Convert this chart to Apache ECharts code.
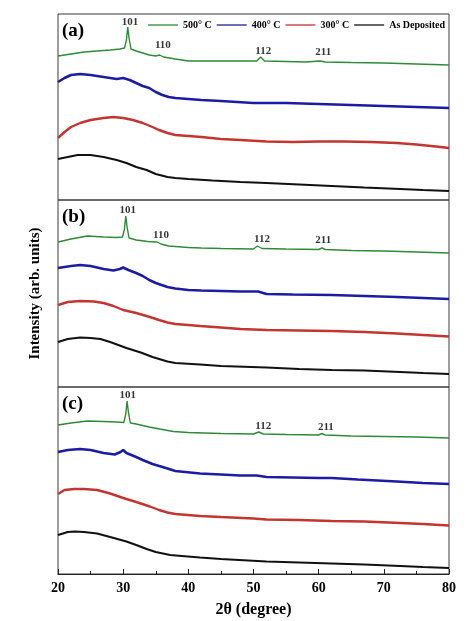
<!DOCTYPE html>
<html>
<head>
<meta charset="utf-8">
<script src="https://cdn.jsdelivr.net/npm/echarts@6/dist/echarts.min.js"></script>
<style>
  html, body { margin: 0; padding: 0; background: #fff; }
  #chart { width: 467px; height: 621px; }
</style>
</head>
<body>
<div id="chart"></div>
<script>
// series names (legend)
const seriesNames = ["500° C", "400° C", "300° C", "As Deposited"];
const seriesColors = ["#2f8a35", "#1c1ca3", "#c23530", "#111111"];

// panel (a)
const a500 = [[20,144],[22,146],[24,148],[26,149],[28,150],[29.5,151],[30.2,152],[30.5,160],[30.7,173],[30.9,162],[31.2,151],[32,149],[33,147],[34,145],[35,144],[35.6,145],[36.2,143],[38,141],[40,139],[42,139],[45,139],[48,139],[50.5,139],[51.1,143],[51.7,139],[55,138.5],[58,138],[60.2,139],[60.5,140],[61,138],[65,137.5],[70,137],[75,136],[80,135]];
const a400 = [[20,118],[21,122],[22,125],[23.4,126],[25,125],[27,123],[29,121],[30,122],[31,120],[32,117],[33,114],[34,112],[35,108],[36,105],[37,103],[38,102],[40,101],[42,100],[45,99],[50,97],[55,97],[60,96],[65,95],[70,94],[75,93],[80,92]];
const a300 = [[20,62],[21,68],[22,73],[23.4,77],[25,80],[27,82],[28.5,83],[30,82],[31.5,80],[33,77],[34.5,73],[35.5,70],[36.8,67],[38,65],[40,64],[42,63],[45,61],[48,60],[52,58.5],[56,58],[60,58.5],[64,58.5],[68,58],[72,57],[75,55.5],[78,53.5],[80,52]];
const a0 = [[20,41],[21.5,43],[23,45],[25,45],[27,43],[29,40],[30.5,37],[32,33],[33.6,30],[35,26],[36.8,23],[38,22],[40,21],[43.7,19.5],[48,18],[52,17],[57,15.5],[62,14],[67,12.5],[72.5,11],[76,10],[80,9]];

// panel (b)
const b500 = [[20,145],[22,148],[24.5,151],[27,150],[29,149.5],[29.9,150],[30.2,158],[30.4,171],[30.6,160],[30.9,149],[32,147],[33.8,145.5],[35.2,145],[35.8,143],[37,141],[40,139.5],[42,139],[45,138.5],[50,138],[50.6,141],[50.9,142],[51.3,138.5],[55,138],[60,137.5],[60.5,139],[61,137.5],[65,136.5],[70,136],[75,135],[80,134]];
const b400 = [[20,119],[22,121],[23.4,122],[25,121],[27,118],[28.5,116.5],[29.5,118],[30,119.5],[30.8,117],[32,114],[33,111],[34,107],[35,104],[36.8,100],[38,98.5],[40,97],[42,96.5],[45,96],[48,95.5],[50.7,95.5],[52,93],[56,92.5],[62,92],[67,91],[72,90],[76,89],[80,88]];
const b300 = [[20,82],[21.5,85],[23.4,86],[25.5,85.5],[27,84],[28.5,81],[30,77],[32,74],[34.1,70],[35.5,67],[36.8,64.5],[38,63],[40,62],[41.8,61],[45,59.5],[48,58],[52,57],[57,56.5],[62,56],[67,55],[72,53.5],[76,52],[80,50.5]];
const b0 = [[20,45],[21.5,48],[23.4,49.5],[25,49],[26.5,48],[28,45],[30.5,39],[32.7,34.5],[34.5,30],[36.8,25.5],[38,24],[41.8,22.5],[45,21],[52,19.5],[57,18],[62,17],[67,16.5],[72.5,15],[76,14],[80,13]];

// panel (c)
const c500 = [[20,149],[22,151],[24.5,153],[27,152.5],[29,152],[30.1,151.5],[30.4,160],[30.6,173],[30.8,162],[31.1,151],[32,150],[34,147],[35.6,145],[37.7,142.5],[40,141.5],[45,140.5],[50,140],[50.8,142],[51.1,143.5],[51.5,140],[55,139.5],[60,139],[60.5,140.5],[61,139],[65,138],[70,137.5],[75,137],[80,136]];
const c400 = [[20,122],[21.5,124],[23.4,125],[25,124],[27,121],[28.7,119.5],[29.6,122],[30,124],[30.5,121],[32,117],[33,114],[34.5,110],[36.8,105.5],[38,103],[41.8,100.5],[45,99.5],[48,98.5],[50.5,98.5],[52,97],[56,96.5],[60,96],[62,96],[66,94.5],[72,92.5],[76,91],[80,90]];
const c300 = [[20,80],[21,84],[22.5,85],[24,85],[26,84],[28,80.5],[30,76],[32,72],[34.1,67.5],[35.5,64],[36.8,61.5],[38,60],[41.8,58],[45,57],[50,55.5],[52,54.5],[57,54],[62,53],[67,52.5],[72.5,51],[76,50],[80,48.5]];
const c0 = [[20,39],[21.5,42],[22.6,42.5],[24,42],[26,40.5],[28,37],[30.5,32.5],[32,29],[33.6,25],[35,22],[37.2,19],[39,18],[41.8,16.5],[45,15],[52,12.5],[57,11.5],[62,10.5],[67,9.5],[72.5,8],[76,7],[80,6]];

// peak labels (hkl) per panel
const peaksA = [["101",31.05,178],["110",36.1,155],["112",51.5,149],["211",60.7,148]];
const peaksB = [["101",30.7,177],["110",35.8,152],["112",51.3,148],["211",60.7,147]];
const peaksC = [["101",30.7,179],["112",51.5,148],["211",61.1,147]];

const xTicks = [20, 30, 40, 50, 60, 70, 80];

const panels = [
  { top: 14, height: 186, label: "(a)", data: [a500, a400, a300, a0], peaks: peaksA },
  { top: 200, height: 187, label: "(b)", data: [b500, b400, b300, b0], peaks: peaksB },
  { top: 387, height: 187, label: "(c)", data: [c500, c400, c300, c0], peaks: peaksC }
];

const font = "Liberation Serif";
const widths = [1.4, 2.6, 2.4, 2.2];

const chart = echarts.init(document.getElementById("chart"));

const grid = [], xAxis = [], yAxis = [], series = [], graphic = [];
panels.forEach((p, i) => {
  const last = i === panels.length - 1;
  grid.push({
    left: 58, right: 18, top: p.top, height: p.height,
    show: true, borderColor: "#3a3a3a", borderWidth: 1, backgroundColor: "transparent"
  });
  xAxis.push({
    type: "value", gridIndex: i, min: xTicks[0], max: xTicks[xTicks.length - 1], interval: 10,
    show: last,
    name: last ? "2θ (degree)" : "",
    nameLocation: "middle", nameGap: 28,
    nameTextStyle: { fontFamily: font, fontWeight: "bold", fontSize: 16, color: "#000" },
    axisLine: { show: true, lineStyle: { color: "#222", width: 1 } },
    axisTick: { show: true, inside: true, length: 5, lineStyle: { color: "#222" } },
    minorTick: { show: true, splitNumber: 2, length: 3, lineStyle: { color: "#222" } },
    axisLabel: { fontFamily: font, fontWeight: "bold", fontSize: 14, color: "#000", margin: 7 },
    splitLine: { show: false }
  });
  yAxis.push({
    type: "value", gridIndex: i, min: 0, max: p.height,
    name: i === 1 ? "Intensity (arb. units)" : "",
    nameLocation: "middle", nameGap: 15,
    nameTextStyle: { fontFamily: font, fontWeight: "bold", fontSize: 15, color: "#000" },
    axisLine: { show: false }, axisTick: { show: false },
    axisLabel: { show: false }, splitLine: { show: false }
  });
  p.data.forEach((d, k) => {
    series.push({
      name: seriesNames[k], type: "line", xAxisIndex: i, yAxisIndex: i,
      data: d, showSymbol: false, symbol: "none", silent: true,
      lineStyle: { color: seriesColors[k], width: widths[k] },
      itemStyle: { color: seriesColors[k] }
    });
  });
  series.push({
    type: "scatter", xAxisIndex: i, yAxisIndex: i, silent: true,
    symbolSize: 0,
    data: p.peaks.map(q => ({ value: [q[1], q[2]], name: q[0] })),
    label: {
      show: true, position: "inside", formatter: "{b}",
      fontFamily: font, fontWeight: "bold", fontSize: 11, color: "#000"
    }
  });
  graphic.push({
    type: "text", left: 62, top: p.top + 8,
    style: { text: p.label, font: "bold 19px 'Liberation Serif'", fill: "#000" }
  });
});

chart.setOption({
  animation: false,
  backgroundColor: "#fff",
  legend: {
    data: seriesNames,
    left: 148, top: 20, padding: 0,
    icon: "rect",
    itemWidth: 30, itemHeight: 1.3, itemGap: 5,
    textStyle: { fontFamily: font, fontWeight: "bold", fontSize: 10, color: "#000", padding: [0, 0, 0, 0] }
  },
  grid: grid,
  xAxis: xAxis,
  yAxis: yAxis,
  series: series,
  graphic: graphic
});
</script>
</body>
</html>
